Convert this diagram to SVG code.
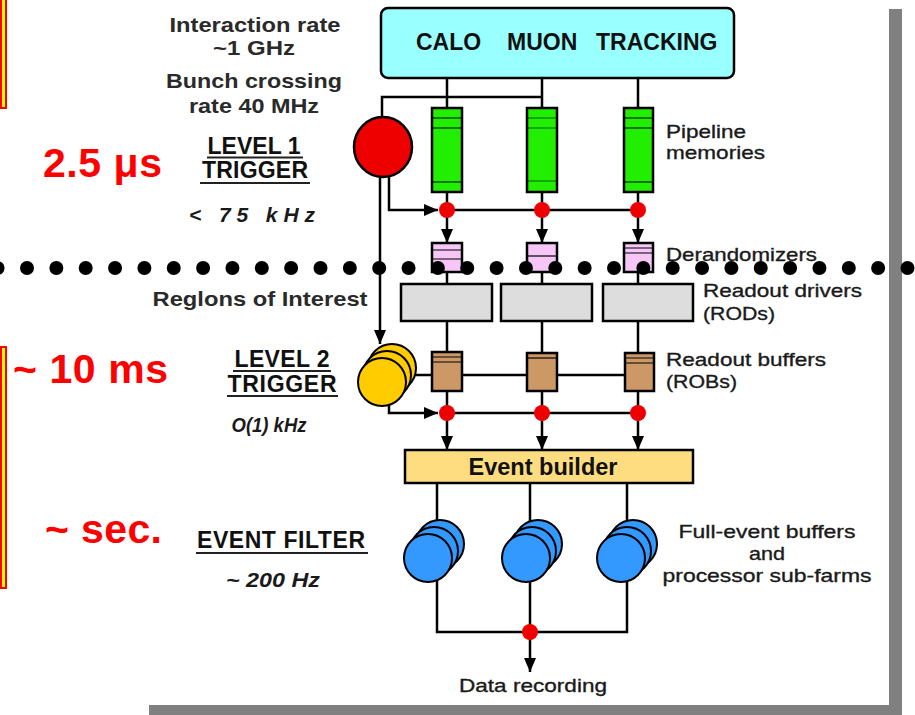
<svg xmlns="http://www.w3.org/2000/svg" width="915" height="715" viewBox="0 0 915 715">
  <defs>
    <style>
      .ln { fill: none; stroke: #000; stroke-width: 2.5; }
      .box { stroke: #000; stroke-width: 2.5; }
      .thin { stroke: #000; stroke-width: 1.2; }
      .lbl { font-family: "Liberation Sans", Arial, sans-serif; font-size: 19px; fill: #1a1a1a; stroke: #1a1a1a; stroke-width: 0.35; }
      .lblb { font-family: "Liberation Sans", Arial, sans-serif; font-size: 21px; font-weight: bold; fill: #2a2a2a; }
      .hd { font-family: "Liberation Sans", Arial, sans-serif; font-size: 23px; font-weight: bold; fill: #111; }
      .it { font-family: "Liberation Sans", Arial, sans-serif; font-size: 21px; font-style: italic; font-weight: bold; fill: #1a1a1a; }
      .big { font-family: "Liberation Sans", Arial, sans-serif; font-size: 41px; font-weight: bold; fill: #ff0000; }
      .dot { fill: #ee0000; }
      .sep { fill: #000; }
      .blue { fill: #3399ff; stroke: #000; stroke-width: 2; }
      .gold { fill: #ffcc00; stroke: #000; stroke-width: 2; }
    </style>
    <marker id="ah" markerUnits="userSpaceOnUse" markerWidth="14" markerHeight="12" refX="14" refY="6" orient="auto">
      <path d="M0,0 L14,6 L0,12 z" fill="#000"/>
    </marker>
  </defs>

  <rect x="0" y="0" width="915" height="715" fill="#ffffff"/>

  <!-- drop shadow of the slide panel -->
  <rect x="889" y="9" width="13" height="706" fill="#808080"/>
  <rect x="149" y="705" width="753" height="10" fill="#808080"/>

  <!-- timing brackets on the left edge -->
  <rect x="1" y="-5" width="5" height="113" fill="#ffff00" stroke="#ff0000" stroke-width="2"/>
  <rect x="1" y="347" width="5" height="241" fill="#ffff00" stroke="#ff0000" stroke-width="2"/>

  <!-- connectors -->
  <g id="connectors">
    <!-- detectors to pipelines -->
    <path class="ln" d="M447,78 V108 M542,78 V108 M638,78 V108"/>
    <!-- bunch crossing clock to level 1 -->
    <path class="ln" d="M542,97 H382 V117"/>
    <!-- pipelines to level-1 accept nodes -->
    <path class="ln" d="M447,192 V210 M542,192 V210 M638,192 V210"/>
    <path class="ln" d="M447,210 H638"/>
    <path class="ln" d="M389,177 V210 H438" marker-end="url(#ah)"/>
    <!-- to derandomizers -->
    <path class="ln" d="M447,212 V243" marker-end="url(#ah)"/>
    <path class="ln" d="M542,212 V243" marker-end="url(#ah)"/>
    <path class="ln" d="M638,212 V243" marker-end="url(#ah)"/>
    <!-- derandomizers to RODs to ROBs -->
    <path class="ln" d="M447,272 V352 M542,272 V352 M638,272 V352"/>
    <!-- regions of interest to level 2 -->
    <path class="ln" d="M380,177 V344" marker-end="url(#ah)"/>
    <!-- level 2 to ROBs -->
    <path class="ln" d="M410,375 H630"/>
    <!-- ROBs to level-2 accept nodes -->
    <path class="ln" d="M447,391 V413 M542,391 V413 M638,391 V413"/>
    <path class="ln" d="M447,413 H638"/>
    <path class="ln" d="M389,404 V413 H438" marker-end="url(#ah)"/>
    <!-- to event builder -->
    <path class="ln" d="M447,415 V450" marker-end="url(#ah)"/>
    <path class="ln" d="M542,415 V450" marker-end="url(#ah)"/>
    <path class="ln" d="M638,415 V450" marker-end="url(#ah)"/>
    <!-- event builder to sub-farms -->
    <path class="ln" d="M437,483 V530 M530,483 V530 M627,483 V530"/>
    <!-- sub-farms to recording -->
    <path class="ln" d="M437,575 V632 H627 V575 M530,575 V632"/>
    <path class="ln" d="M530,634 V672" marker-end="url(#ah)"/>
  </g>

  <!-- detector block -->
  <g id="detectors">
    <rect class="box" x="381" y="8" width="353" height="70" rx="7" fill="#99ffff"/>
    <text class="hd" x="416" y="50">CALO</text>
    <text class="hd" x="507" y="50">MUON</text>
    <text class="hd" x="596" y="50">TRACKING</text>
  </g>

  <!-- level 1 trigger -->
  <g id="level1">
    <ellipse cx="383" cy="147" rx="29" ry="30" fill="#ee0000" stroke="#000" stroke-width="2.5"/>
  </g>

  <!-- pipeline memories -->
  <g id="pipelines">
    <rect class="box" x="432" y="108" width="30" height="84" fill="#22ee00"/>
    <rect class="box" x="527" y="108" width="30" height="84" fill="#22ee00"/>
    <rect class="box" x="624" y="108" width="29" height="84" fill="#22ee00"/>
    <path class="thin" d="M432,118 H462 M432,128 H462 M432,182 H462"/>
    <path class="thin" d="M527,118 H557 M527,128 H557 M527,181 H557" stroke-opacity="0.6"/>
    <path class="thin" d="M624,118 H653 M624,128 H653 M624,182 H653"/>
  </g>

  <!-- derandomizers -->
  <g id="derandomizers">
    <rect class="box" x="432" y="243" width="30" height="29" fill="#f6c6f6"/>
    <rect class="box" x="527" y="243" width="30" height="29" fill="#f6c6f6"/>
    <rect class="box" x="624" y="243" width="29" height="29" fill="#f6c6f6"/>
    <path class="thin" d="M432,250 H462 M432,259 H462" stroke="#7a4a7a"/>
    <path class="thin" d="M527,256 H557" stroke="#7a4a7a"/>
    <path class="thin" d="M624,248 H653 M624,253 H653" stroke="#7a4a7a"/>
  </g>

  <!-- readout drivers -->
  <g id="rods">
    <rect class="box" x="401" y="284" width="91" height="37" fill="#dddddd"/>
    <rect class="box" x="501" y="284" width="91" height="37" fill="#dddddd"/>
    <rect class="box" x="603" y="284" width="90" height="37" fill="#dddddd"/>
  </g>

  <!-- level 2 trigger farm -->
  <g id="level2">
    <circle class="gold" cx="392" cy="368" r="24"/>
    <circle class="gold" cx="387" cy="375" r="24"/>
    <circle class="gold" cx="382" cy="382" r="24"/>
  </g>

  <!-- readout buffers -->
  <g id="robs">
    <rect class="box" x="432" y="352" width="30" height="39" fill="#cc9966"/>
    <rect class="box" x="527" y="353" width="30" height="38" fill="#cc9966"/>
    <rect class="box" x="625" y="353" width="29" height="38" fill="#cc9966"/>
    <path class="thin" d="M432,357 H462 M432,362 H462" stroke="#7a5530"/>
    <path class="thin" d="M527,358 H557" stroke="#7a5530"/>
    <path class="thin" d="M625,358 H654 M625,363 H654" stroke="#7a5530"/>
  </g>

  <!-- event builder -->
  <g id="event-builder">
    <rect class="box" x="405" y="450" width="288" height="33" fill="#fedd80"/>
    <text class="hd" x="543" y="475" text-anchor="middle" font-size="22" textLength="149" lengthAdjust="spacingAndGlyphs">Event builder</text>
  </g>

  <!-- event filter sub-farms -->
  <g id="subfarm-1">
    <circle class="blue" cx="440" cy="544" r="24"/>
    <circle class="blue" cx="434" cy="551" r="24"/>
    <circle class="blue" cx="428" cy="558" r="24"/>
  </g>
  <g id="subfarm-2">
    <circle class="blue" cx="538" cy="544" r="24"/>
    <circle class="blue" cx="532" cy="551" r="24"/>
    <circle class="blue" cx="526" cy="558" r="24"/>
  </g>
  <g id="subfarm-3">
    <circle class="blue" cx="633" cy="544" r="24"/>
    <circle class="blue" cx="627" cy="551" r="24"/>
    <circle class="blue" cx="621" cy="558" r="24"/>
  </g>

  <!-- accept / merge nodes -->
  <g id="nodes">
    <circle class="dot" cx="447" cy="210" r="8"/>
    <circle class="dot" cx="542" cy="210" r="8"/>
    <circle class="dot" cx="638" cy="210" r="8"/>
    <circle class="dot" cx="447" cy="413" r="8"/>
    <circle class="dot" cx="542" cy="413" r="8"/>
    <circle class="dot" cx="638" cy="413" r="8"/>
    <circle class="dot" cx="530" cy="632" r="8"/>
  </g>

  <!-- left-hand annotations -->
  <g id="rates">
    <text class="lblb" x="255" y="32" text-anchor="middle" textLength="171" lengthAdjust="spacingAndGlyphs">Interaction rate</text>
    <text class="lblb" x="254" y="55" text-anchor="middle" textLength="82" lengthAdjust="spacingAndGlyphs">~1 GHz</text>
    <text class="lblb" x="254" y="88" text-anchor="middle" textLength="176" lengthAdjust="spacingAndGlyphs">Bunch crossing</text>
    <text class="lblb" x="254" y="113" text-anchor="middle" textLength="130" lengthAdjust="spacingAndGlyphs">rate 40 MHz</text>
    <text class="hd" x="254" y="154" text-anchor="middle" textLength="93">LEVEL 1</text>
    <path d="M207,157.5 H303" stroke="#222" stroke-width="2"/>
    <text class="hd" x="255" y="178" text-anchor="middle" textLength="106">TRIGGER</text>
    <path d="M200,183 H310" stroke="#222" stroke-width="2"/>
    <text class="it" x="252" y="222" text-anchor="middle" textLength="126">&lt; 75 kHz</text>
    <text class="lblb" x="260" y="306" text-anchor="middle" textLength="215" lengthAdjust="spacingAndGlyphs">Reglons of Interest</text>
    <text class="hd" x="282" y="367" text-anchor="middle" textLength="95">LEVEL 2</text>
    <path d="M233,371 H331" stroke="#222" stroke-width="2"/>
    <text class="hd" x="282" y="392" text-anchor="middle" textLength="109">TRIGGER</text>
    <path d="M227,396 H338" stroke="#222" stroke-width="2"/>
    <text class="it" x="269" y="432" text-anchor="middle" textLength="75" lengthAdjust="spacingAndGlyphs" font-weight="normal">O(1) kHz</text>
    <text class="hd" x="281" y="548" text-anchor="middle" textLength="168">EVENT FILTER</text>
    <path d="M196,553 H368" stroke="#222" stroke-width="2"/>
    <text class="it" x="273" y="587" text-anchor="middle" textLength="94" lengthAdjust="spacingAndGlyphs">~ 200 Hz</text>
  </g>

  <!-- latency figures -->
  <g id="latencies">
    <text class="big" x="43" y="177" textLength="119">2.5 μs</text>
    <text class="big" x="13" y="383" textLength="155">~ 10 ms</text>
    <text class="big" x="45" y="543" textLength="117">~ sec.</text>
  </g>

  <!-- right-hand annotations -->
  <g id="stage-labels">
    <text class="lbl" x="666" y="138" textLength="80" lengthAdjust="spacingAndGlyphs">Pipeline</text>
    <text class="lbl" x="666" y="159" textLength="99" lengthAdjust="spacingAndGlyphs">memories</text>
    <text class="lbl" x="666" y="261" textLength="151" lengthAdjust="spacingAndGlyphs">Derandomizers</text>
    <text class="lbl" x="703" y="297" textLength="159" lengthAdjust="spacingAndGlyphs">Readout drivers</text>
    <text class="lbl" x="703" y="320" textLength="72" lengthAdjust="spacingAndGlyphs">(RODs)</text>
    <text class="lbl" x="666" y="366" textLength="160" lengthAdjust="spacingAndGlyphs">Readout buffers</text>
    <text class="lbl" x="666" y="388" textLength="71" lengthAdjust="spacingAndGlyphs">(ROBs)</text>
    <text class="lbl" x="767" y="538" text-anchor="middle" textLength="177" lengthAdjust="spacingAndGlyphs">Full-event buffers</text>
    <text class="lbl" x="767" y="560" text-anchor="middle" textLength="36" lengthAdjust="spacingAndGlyphs">and</text>
    <text class="lbl" x="767" y="582" text-anchor="middle" textLength="209" lengthAdjust="spacingAndGlyphs">processor sub-farms</text>
    <text class="lbl" x="533" y="692" text-anchor="middle" textLength="148" lengthAdjust="spacingAndGlyphs">Data recording</text>
  </g>

  <!-- level-1 / level-2 boundary -->
  <g id="boundary">
    <circle class="sep" cx="-2.4" cy="268" r="7"/>
    <circle class="sep" cx="27" cy="268" r="7"/>
    <circle class="sep" cx="56.35" cy="268" r="7"/>
    <circle class="sep" cx="85.7" cy="268" r="7"/>
    <circle class="sep" cx="115.05" cy="268" r="7"/>
    <circle class="sep" cx="144.4" cy="268" r="7"/>
    <circle class="sep" cx="173.75" cy="268" r="7"/>
    <circle class="sep" cx="203.1" cy="268" r="7"/>
    <circle class="sep" cx="232.45" cy="268" r="7"/>
    <circle class="sep" cx="261.8" cy="268" r="7"/>
    <circle class="sep" cx="291.15" cy="268" r="7"/>
    <circle class="sep" cx="320.5" cy="268" r="7"/>
    <circle class="sep" cx="349.85" cy="268" r="7"/>
    <circle class="sep" cx="379.2" cy="268" r="7"/>
    <circle class="sep" cx="408.55" cy="268" r="7"/>
    <circle class="sep" cx="437.9" cy="268" r="7"/>
    <circle class="sep" cx="467.25" cy="268" r="7"/>
    <circle class="sep" cx="496.6" cy="268" r="7"/>
    <circle class="sep" cx="525.95" cy="268" r="7"/>
    <circle class="sep" cx="555.3" cy="268" r="7"/>
    <circle class="sep" cx="584.65" cy="268" r="7"/>
    <circle class="sep" cx="614" cy="268" r="7"/>
    <circle class="sep" cx="643.35" cy="268" r="7"/>
    <circle class="sep" cx="672.7" cy="268" r="7"/>
    <circle class="sep" cx="702.05" cy="268" r="7"/>
    <circle class="sep" cx="731.4" cy="268" r="7"/>
    <circle class="sep" cx="760.75" cy="268" r="7"/>
    <circle class="sep" cx="790.1" cy="268" r="7"/>
    <circle class="sep" cx="819.45" cy="268" r="7"/>
    <circle class="sep" cx="848.8" cy="268" r="7"/>
    <circle class="sep" cx="878.15" cy="268" r="7"/>
    <circle class="sep" cx="907.5" cy="268" r="7"/>
  </g>
</svg>
